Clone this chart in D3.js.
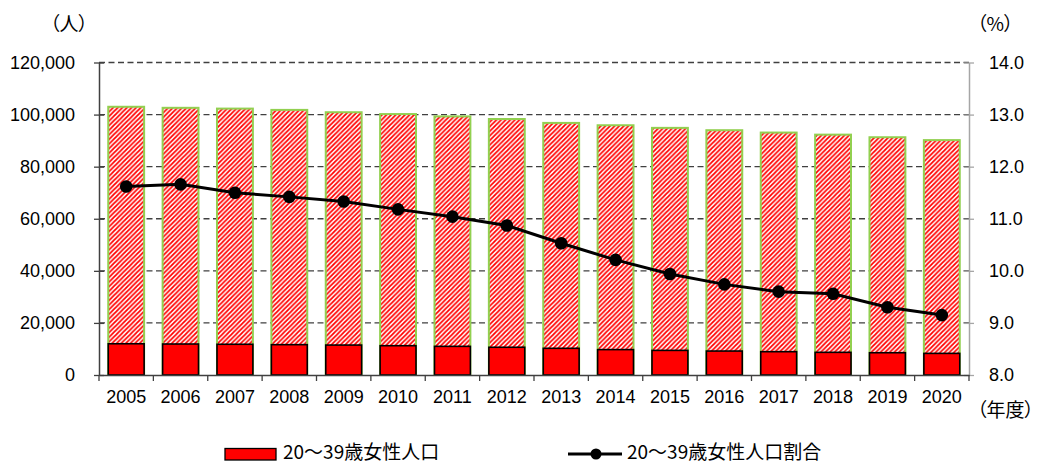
<!DOCTYPE html>
<html>
<head>
<meta charset="utf-8">
<script src="https://cdn.jsdelivr.net/npm/d3@7"></script>
<style>
  body { margin: 0; background: #fff; }
  text { font-family: "Liberation Sans", "Noto Sans CJK JP", sans-serif; fill: #000; }
  .jp { font-family: "Noto Sans CJK JP", sans-serif; font-feature-settings: "palt"; }
</style>
</head>
<body>
<div id="chart"></div>
<script>
// years (fiscal)
const years = ["2005", "2006", "2007", "2008", "2009", "2010", "2011", "2012",
  "2013", "2014", "2015", "2016", "2017", "2018", "2019", "2020"];
// total female population (hatched bars)
const totalFemale = [103000, 102600, 102300, 101800, 100900, 100200, 99300, 98300,
  96800, 95900, 94900, 94000, 93100, 92300, 91300, 90200];
// 20-39 female population (solid bars)
const youngFemale = [12000, 11900, 11800, 11650, 11500, 11250, 11000, 10650,
  10250, 9750, 9450, 9200, 8950, 8700, 8550, 8300];
// ratio (%)
const ratio = [11.62, 11.66, 11.50, 11.42, 11.33, 11.18, 11.04, 10.87,
  10.53, 10.21, 9.94, 9.74, 9.60, 9.56, 9.30, 9.15];
const leftTicks = [0, 20000, 40000, 60000, 80000, 100000, 120000];
const rightTicks = [8, 9, 10, 11, 12, 13, 14];

const width = 1039, height = 464;
const margin = { top: 62.5, right: 70, bottom: 89, left: 99 };

const svg = d3.select("#chart").append("svg")
  .attr("width", width)
  .attr("height", height);

// red/white diagonal hatch
const P = 4.6;
const defs = svg.append("defs");
const pat = defs.append("pattern")
  .attr("id", "hatch")
  .attr("patternUnits", "userSpaceOnUse")
  .attr("width", P)
  .attr("height", P);
pat.append("rect").attr("width", P).attr("height", P).attr("fill", "#fff");
pat.append("path")
  .attr("d", `M${-P / 4},${P / 4} l${P / 2},${-P / 2} M0,${P} l${P},${-P} M${P * 0.75},${P * 1.25} l${P / 2},${-P / 2}`)
  .attr("stroke", "#ff0000")
  .attr("stroke-width", 1.75);

const x = d3.scaleBand()
  .domain(years)
  .range([margin.left, width - margin.right])
  .paddingInner(0.34)
  .paddingOuter(0.17);

const yL = d3.scaleLinear().domain([0, 120000]).range([height - margin.bottom, margin.top]);
const yR = d3.scaleLinear().domain([8, 14]).range([height - margin.bottom, margin.top]);

// gridlines
svg.append("g")
  .selectAll("line")
  .data(leftTicks.slice(1))
  .enter()
  .append("line")
  .attr("x1", margin.left)
  .attr("x2", width - margin.right)
  .attr("y1", (d) => yL(d))
  .attr("y2", (d) => yL(d))
  .attr("stroke", "#404040")
  .attr("stroke-width", 1.4)
  .attr("stroke-dasharray", "6,3.5");

// hatched bars (total)
svg.append("g")
  .selectAll("rect")
  .data(years)
  .enter()
  .append("rect")
  .attr("x", (d) => x(d))
  .attr("width", x.bandwidth())
  .attr("y", (d, i) => yL(totalFemale[i]))
  .attr("height", (d, i) => yL(0) - yL(totalFemale[i]))
  .attr("fill", "url(#hatch)")
  .attr("stroke", "#92d050")
  .attr("stroke-width", 2);

// solid bars
svg.append("g")
  .selectAll("rect")
  .data(years)
  .enter()
  .append("rect")
  .attr("x", (d) => x(d))
  .attr("width", x.bandwidth())
  .attr("y", (d, i) => yL(youngFemale[i]))
  .attr("height", (d, i) => yL(0) - yL(youngFemale[i]))
  .attr("fill", "#ff0000")
  .attr("stroke", "#000")
  .attr("stroke-width", 1.6);

// axes
const fmt = d3.format(",");
const axL = svg.append("g")
  .attr("transform", `translate(${margin.left},0)`)
  .call(d3.axisLeft(yL).tickValues(leftTicks).tickFormat(fmt).tickSizeInner(5).tickSizeOuter(0));
axL.select(".domain").attr("stroke", "#404040").attr("stroke-width", 1.5);
axL.selectAll(".tick line").attr("x2", 5).attr("x1", -5).attr("stroke", "#404040").attr("stroke-width", 1.3);
axL.selectAll(".tick text").attr("font-size", 18).attr("font-family", "Liberation Sans").attr("x", -24);

const axR = svg.append("g")
  .attr("transform", `translate(${width - margin.right},0)`)
  .call(d3.axisRight(yR).tickValues(rightTicks).tickFormat(d3.format(".1f")).tickSizeInner(5).tickSizeOuter(0));
axR.select(".domain").attr("stroke", "#a6a6a6").attr("stroke-width", 1.5);
axR.selectAll(".tick line").attr("x1", -5).attr("x2", 5).attr("stroke", "#a6a6a6").attr("stroke-width", 1.3);
axR.selectAll(".tick text").attr("font-size", 18).attr("font-family", "Liberation Sans").attr("x", 20);

const axB = svg.append("g")
  .attr("transform", `translate(0,${yL(0)})`)
  .call(d3.axisBottom(x).tickSize(0).tickSizeOuter(0).tickPadding(15));
axB.select(".domain").attr("stroke", "#404040").attr("stroke-width", 1.5);
axB.selectAll(".tick text").attr("font-size", 18).attr("font-family", "Liberation Sans");
// category separator ticks
const step = x.step();
axB.append("g")
  .selectAll("line")
  .data(d3.range(years.length + 1))
  .enter()
  .append("line")
  .attr("x1", (i) => margin.left + i * step)
  .attr("x2", (i) => margin.left + i * step)
  .attr("y1", 0)
  .attr("y2", 6)
  .attr("stroke", "#404040")
  .attr("stroke-width", 1.3);

// ratio line
const line = d3.line()
  .x((d, i) => x(years[i]) + x.bandwidth() / 2)
  .y((d) => yR(d));

svg.append("path")
  .datum(ratio)
  .attr("d", line)
  .attr("fill", "none")
  .attr("stroke", "#000")
  .attr("stroke-width", 3);

svg.append("g")
  .selectAll("circle")
  .data(ratio)
  .enter()
  .append("circle")
  .attr("cx", (d, i) => x(years[i]) + x.bandwidth() / 2)
  .attr("cy", (d) => yR(d))
  .attr("r", 6.3)
  .attr("fill", "#000");

// unit labels
svg.append("text").attr("class", "jp").attr("x", 50).attr("y", 31).attr("font-size", 19)
  .text("（人）");
svg.append("text").attr("class", "jp").attr("x", 977).attr("y", 31).attr("font-size", 19)
  .text("（%）");
svg.append("text").attr("class", "jp").attr("x", 977).attr("y", 417).attr("font-size", 19)
  .text("（年度）");

// legend
const lg = svg.append("g");
lg.append("rect")
  .attr("x", 225).attr("y", 448.5).attr("width", 51).attr("height", 11.5)
  .attr("fill", "#ff0000").attr("stroke", "#000").attr("stroke-width", 1.3);
lg.append("text").attr("class", "jp").attr("x", 283).attr("y", 458.5).attr("font-size", 19)
  .text("20～39歳女性人口");
lg.append("line")
  .attr("x1", 568).attr("x2", 622).attr("y1", 454).attr("y2", 454)
  .attr("stroke", "#000").attr("stroke-width", 3);
lg.append("circle").attr("cx", 596).attr("cy", 454).attr("r", 5.5).attr("fill", "#000");
lg.append("text").attr("class", "jp").attr("x", 627).attr("y", 458.5).attr("font-size", 19)
  .text("20～39歳女性人口割合");
</script>
</body>
</html>
